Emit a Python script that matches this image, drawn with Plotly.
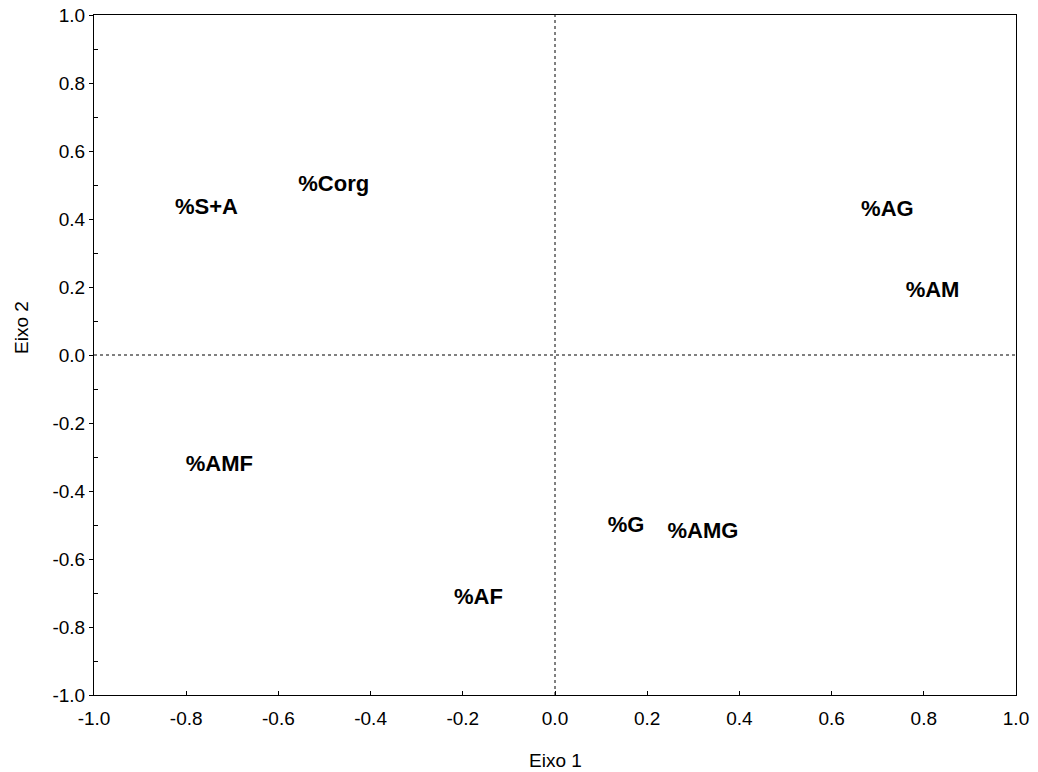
import plotly.graph_objects as go

labels = ["%S+A", "%Corg", "%AG", "%AM", "%AMF", "%G", "%AMG", "%AF"]
eixo1 = [-0.756, -0.480, 0.721, 0.819, -0.728, 0.154, 0.321, -0.166]
eixo2 = [0.432, 0.500, 0.424, 0.188, -0.326, -0.503, -0.521, -0.715]
tick_vals = [-1.0, -0.8, -0.6, -0.4, -0.2, 0.0, 0.2, 0.4, 0.6, 0.8, 1.0]
tick_text = ["-1.0", "-0.8", "-0.6", "-0.4", "-0.2", "0.0", "0.2", "0.4", "0.6", "0.8", "1.0"]

fig = go.Figure()
fig.add_trace(go.Scatter(
    x=eixo1, y=eixo2, mode="text", text=labels,
    textposition="middle center",
    textfont=dict(family="Liberation Sans, Arial", size=22, color="black", weight="bold"),
    showlegend=False, hoverinfo="skip"))

fig.add_shape(type="line", x0=0, x1=0, y0=-1, y1=1, xref="x", yref="y",
              line=dict(color="black", width=1, dash="dot"))
fig.add_shape(type="line", x0=-1, x1=1, y0=0, y1=0, xref="x", yref="y",
              line=dict(color="black", width=1, dash="dot"))

axis_common = dict(range=[-1, 1], showgrid=False, zeroline=False, showline=True,
                   linecolor="black", linewidth=1, mirror=True, automargin=False,
                   tickvals=tick_vals, ticktext=tick_text,
                   tickfont=dict(family="Liberation Sans, Arial", size=19, color="black"))

fig.update_xaxes(**axis_common, ticks="inside", ticklen=4, tickcolor="black",
                 ticklabelstandoff=6)
fig.update_yaxes(**axis_common, ticks="outside", ticklen=4, tickcolor="black",
                 minor=dict(ticks="inside", ticklen=4, dtick=0.2, tick0=-0.9, tickcolor="black"))

fig.add_annotation(text="Eixo 1", x=0.5, y=-0.096, xref="paper", yref="paper",
                   showarrow=False, xanchor="center", yanchor="middle",
                   font=dict(family="Liberation Sans, Arial", size=19, color="black"))
fig.add_annotation(text="Eixo 2", x=-0.078, y=0.54, xref="paper", yref="paper",
                   showarrow=False, xanchor="center", yanchor="middle", textangle=-90,
                   font=dict(family="Liberation Sans, Arial", size=19, color="black"))

fig.update_layout(width=1038, height=772, margin=dict(l=94, r=22, t=15, b=77),
                  plot_bgcolor="white", paper_bgcolor="white")
fig.write_html("out.html")
